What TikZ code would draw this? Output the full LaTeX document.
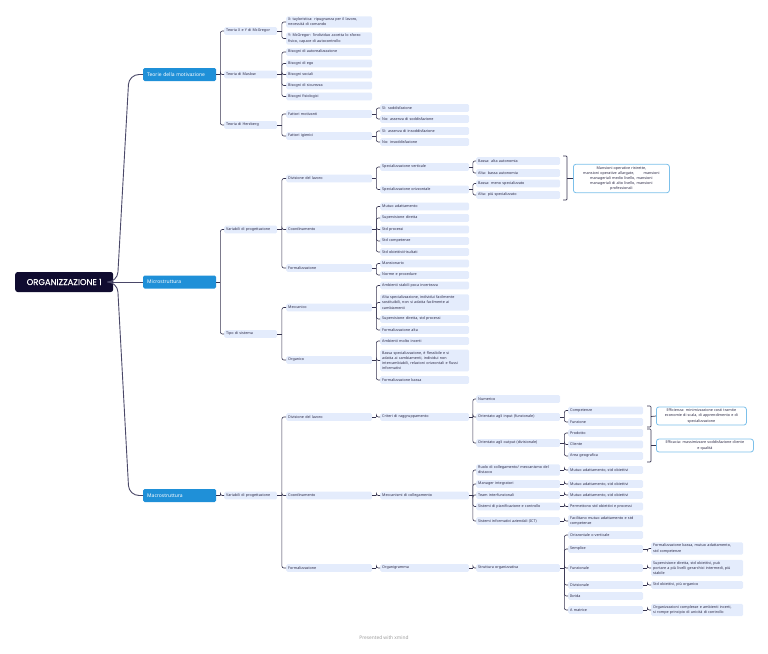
\documentclass[tikz,border=0pt]{standalone}
\usepackage{fontspec}
\setmainfont{Noto Sans}
\newfontfamily\rootfont[FakeBold=0.4]{Poppins}
\usetikzlibrary{calc}
\definecolor{nf}{HTML}{E4ECFC}
\definecolor{tc}{HTML}{2E2C48}
\definecolor{lc}{HTML}{35334F}
\definecolor{bl}{HTML}{1F90D8}
\definecolor{rt}{HTML}{100C30}
\definecolor{sb}{HTML}{7CC0EA}
\definecolor{rc}{HTML}{4A4868}
\definecolor{ft}{HTML}{9C9C9C}
\tikzset{
 box/.style={fill=nf, text=tc, rounded corners=1.5pt, anchor=west, inner xsep=2pt, inner ysep=1.6pt,
   minimum height=7.6pt, font=\fontsize{3.7}{5.2}\selectfont, align=left, text width=#1},
 c1/.style={box=49pt}, c2/.style={box=82pt}, c3/.style={box=85pt},
 c4/.style={box=80pt}, c5/.style={box=71pt}, c6/.style={box=88pt},
 conn/.style={draw=lc, line width=0.6pt},
 rootc/.style={draw=rc, line width=0.9pt},
 topbox/.style={fill=bl, text=white, rounded corners=1.5pt, font=\fontsize{5}{6}\selectfont\bfseries,
   minimum height=13pt, anchor=west, inner xsep=4pt, text width=65pt, align=left},
 sumbox/.style={draw=sb, line width=0.8pt, fill=white, text=tc, rounded corners=2.5pt, anchor=west,
   inner xsep=3pt, inner ysep=2pt, font=\fontsize{3.7}{5.2}\selectfont, align=center},
}
\newcommand\lk[3][4]{\draw[conn] (#2.east) -- ++(#1pt,0) coordinate (sp);
  \draw[conn, rounded corners=2pt] (sp) |- (#3.west);}
\newcommand\brk[3]{\draw[conn, line width=0.7pt, rounded corners=1pt] (#1,#2) -- (#1+4,#2) -- (#1+4,#3) -- (#1,#3);}
\begin{document}
\begin{tikzpicture}[x=1pt,y=-1pt]
\useasboundingbox (0,0) rectangle (768,653);
% root and level 1
\node[fill=rt, text=white, rounded corners=2.5pt, minimum width=98pt, minimum height=20pt, anchor=west,
  font=\rootfont\fontsize{8.4}{10}\selectfont] (root) at (15,282) {ORGANIZZAZIONE 1};
\node[topbox] (TM) at (143,74.5) {Teorie della motivazione};
\node[topbox] (MI) at (143,282) {Microstruttura};
\node[topbox] (MA) at (143,495.5) {Macrostruttura};
\draw[rootc, rounded corners=10pt] (root.east) -- ++(4,0) -- ($(TM.west)+(-14,0)$) -- (TM.west);
\draw[rootc] (root.east) -- (MI.west);
\draw[rootc, rounded corners=10pt] (root.east) -- ++(4,0) -- ($(MA.west)+(-14,0)$) -- (MA.west);

% ---- Teorie della motivazione
\node[c1] (TXY) at (224,31) {Teoria X e Y di McGregor};
\node[c1] (TMa) at (224,74.5) {Teoria di Maslow};
\node[c1] (THe) at (224,125) {Teoria di Herzberg};
\foreach \c in {TXY,TMa,THe} {\lk{TM}{\c}}
\node[c2] (X) at (286,22) {X: tayloristica: ripugnanza per il lavoro,\\ necessità di comando};
\node[c2] (Y) at (286,38.5) {Y: McGregor: l'individuo accetta lo sforzo\\ fisico, capace di autocontrollo};
\foreach \c in {X,Y} {\lk[4.5]{TXY}{\c}}
\node[c2] (B1) at (286,52) {Bisogni di autorealizzazione};
\node[c2] (B2) at (286,63.5) {Bisogni di ego};
\node[c2] (B3) at (286,74.5) {Bisogni sociali};
\node[c2] (B4) at (286,85.5) {Bisogni di sicurezza};
\node[c2] (B5) at (286,96.5) {Bisogni fisiologici};
\foreach \c in {B1,B2,B3,B4,B5} {\lk[4.5]{TMa}{\c}}
\node[c2] (FM) at (286,114) {Fattori motivanti};
\node[c2] (FI) at (286,136) {Fattori igienici};
\foreach \c in {FM,FI} {\lk[4.5]{THe}{\c}}
\node[c3] (S1) at (380,108) {Sì: soddisfazione};
\node[c3] (S2) at (380,119) {No: assenza di soddisfazione};
\node[c3] (S3) at (380,131) {Sì: assenza di insoddisfazione};
\node[c3] (S4) at (380,142) {No: insoddisfazione};
\foreach \c in {S1,S2} {\lk{FM}{\c}}
\foreach \c in {S3,S4} {\lk{FI}{\c}}

% ---- Microstruttura
\node[c1] (MiV) at (224,229.5) {Variabili di progettazione};
\node[c1] (MiT) at (224,334) {Tipo di sistema};
\foreach \c in {MiV,MiT} {\lk{MI}{\c}}
\node[c2] (MiDL) at (286,178.5) {Divisione del lavoro};
\node[c2] (MiCo) at (286,229.5) {Coordinamento};
\node[c2] (MiFo) at (286,268) {Formalizzazione};
\foreach \c in {MiDL,MiCo,MiFo} {\lk[4.5]{MiV}{\c}}
\node[c3] (SV) at (380,167) {Specializzazione verticale};
\node[c3] (SOr) at (380,189.5) {Specializzazione orizzontale};
\foreach \c in {SV,SOr} {\lk{MiDL}{\c}}
\node[c4] (V1) at (476,161) {Bassa: alta autonomia};
\node[c4] (V2) at (476,173) {Alta: bassa autonomia};
\node[c4] (O1) at (476,183.5) {Bassa: meno specializzato};
\node[c4] (O2) at (476,195) {Alta: più specializzato};
\foreach \c in {V1,V2} {\lk[3.5]{SV}{\c}}
\foreach \c in {O1,O2} {\lk[3.5]{SOr}{\c}}
\brk{563}{156}{200}
\node[sumbox, text width=90pt] (Man) at (573,178.5) {Mansioni operative ristrette,\\ mansioni operative allargate,\hspace{8pt} mansioni\\ manageriali medio livello, mansioni\\ manageriali di alto livello, mansioni\\ professionali};
\draw[conn, line width=0.7pt] (567,178.5) -- (Man.west);
\node[c3] (C1) at (380,206.5) {Mutuo adattamento};
\node[c3] (C2) at (380,218) {Supervisione diretta};
\node[c3] (C3) at (380,229.5) {Std processi};
\node[c3] (C4) at (380,241) {Std competenze};
\node[c3] (C5) at (380,252) {Std obiettivi/risultati};
\foreach \c in {C1,C2,C3,C4,C5} {\lk{MiCo}{\c}}
\node[c3] (F1) at (380,263.5) {Mansionario};
\node[c3] (F2) at (380,275) {Norme e procedure};
\foreach \c in {F1,F2} {\lk{MiFo}{\c}}
\node[c2] (Mec) at (286,307.5) {Meccanico};
\node[c2] (Org) at (286,360) {Organico};
\foreach \c in {Mec,Org} {\lk[4.5]{MiT}{\c}}
\node[c3] (Me1) at (380,285.5) {Ambienti stabili poca incertezza};
\node[c3] (Me2) at (380,302.5) {Alta specializzazione, individui facilmente\\ sostituibili, non si adatta facilmente ai\\ cambiamenti};
\node[c3] (Me3) at (380,319) {Supervisione diretta, std processi};
\node[c3] (Me4) at (380,330) {Formalizzazione alta};
\foreach \c in {Me1,Me2,Me3,Me4} {\lk{Mec}{\c}}
\node[c3] (Or1) at (380,341) {Ambienti molto incerti};
\node[c3] (Or2) at (380,360.5) {Bassa specializzazione, è flessibile e si\\ adatta ai cambiamenti, individui non\\ intercambiabili, relazioni orizzontali e flussi\\ informativi};
\node[c3] (Or3) at (380,380) {Formalizzazione bassa};
\foreach \c in {Or1,Or2,Or3} {\lk{Org}{\c}}

% ---- Macrostruttura
\node[c1] (MaV) at (224,495.5) {Variabili di progettazione};
\lk{MA}{MaV}
\node[c2] (MaDL) at (286,417) {Divisione del lavoro};
\node[c2] (MaCo) at (286,495.5) {Coordinamento};
\node[c2] (MaFo) at (286,568) {Formalizzazione};
\foreach \c in {MaDL,MaCo,MaFo} {\lk[4.5]{MaV}{\c}}
\node[c3] (Crit) at (380,417) {Criteri di raggruppamento};
\node[c3] (Mecc) at (380,495.5) {Meccanismi di collegamento};
\node[c3] (Orgm) at (380,568) {Organigramma};
\lk{MaDL}{Crit} \lk{MaCo}{Mecc} \lk{MaFo}{Orgm}
\node[c4] (Num) at (476,399) {Numerico};
\node[c4] (In) at (476,417) {Orientato agli input (funzionale)};
\node[c4] (Out) at (476,443) {Orientato agli output (divisionale)};
\foreach \c in {Num,In,Out} {\lk[3.5]{Crit}{\c}}
\node[c5] (Comp) at (568,410.5) {Competenze};
\node[c5] (Funz) at (568,422) {Funzione};
\foreach \c in {Comp,Funz} {\lk{In}{\c}}
\node[c5] (Prod) at (568,433) {Prodotto};
\node[c5] (Cli) at (568,444.5) {Cliente};
\node[c5] (Area) at (568,456) {Area geografica};
\foreach \c in {Prod,Cli,Area} {\lk{Out}{\c}}
\brk{647}{406}{427}
\node[sumbox, text width=84pt] (Eff) at (656,416) {Efficienza: minimizzazione costi tramite\\ economie di scala, di apprendimento e di\\ specializzazione};
\draw[conn, line width=0.7pt] (651,416.5) -- (Eff.west);
\brk{647}{429}{462}
\node[sumbox, text width=91pt] (Efc) at (656,445.5) {Efficacia: massimizzare soddisfazione cliente\\ e qualità};
\draw[conn, line width=0.7pt] (651,445.5) -- (Efc.west);
\node[c4] (R1) at (476,470) {Ruolo di collegamento/ meccanismo del\\ distacco};
\node[c4] (R2) at (476,484) {Manager integratori};
\node[c4] (R3) at (476,495) {Team interfunzionali};
\node[c4] (R4) at (476,506.5) {Sistemi di pianificazione e controllo};
\node[c4] (R5) at (476,521) {Sistemi informativi aziendali (ICT)};
\foreach \c in {R1,R2,R3,R4,R5} {\lk[3.5]{Mecc}{\c}}
\node[c5] (M1) at (568,470) {Mutuo adattamento, std obiettivi};
\node[c5] (M2) at (568,484) {Mutuo adattamento, std obiettivi};
\node[c5] (M3) at (568,495) {Mutuo adattamento, std obiettivi};
\node[c5] (M4) at (568,506.5) {Permettono std obiettivi e processi};
\node[c5] (M5) at (568,521) {Facilitano mutuo adattamento e std\\ competenze};
\lk{R1}{M1} \lk{R2}{M2} \lk{R3}{M3} \lk{R4}{M4} \lk{R5}{M5}
\node[c4] (Str) at (476,568) {Struttura organizzativa};
\lk[3.5]{Orgm}{Str}
\node[c5] (St1) at (568,535) {Orizzontale o verticale};
\node[c5] (St2) at (568,549) {Semplice};
\node[c5] (St3) at (568,568) {Funzionale};
\node[c5] (St4) at (568,585) {Divisionale};
\node[c5] (St5) at (568,596) {Ibrida};
\node[c5] (St6) at (568,610) {A matrice};
\foreach \c in {St1,St2,St3,St4,St5,St6} {\lk{Str}{\c}}
\node[c6] (Se) at (651,548.5) {Formalizzazione bassa, mutuo adattamento,\\ std competenze};
\node[c6] (Fu) at (651,568) {Supervisione diretta, std obiettivi, può\\ portare a più livelli gerarchici intermedi, più\\ stabile};
\node[c6] (Di) at (651,585) {Std obiettivi, più organico};
\node[c6] (Am) at (651,610) {Organizzazioni complesse e ambienti incerti,\\ si rompe principio di unicità di controllo};
\lk{St2}{Se} \lk{St3}{Fu} \lk{St4}{Di} \lk{St6}{Am}

% footer
\node[text=ft, font=\fontsize{4.8}{5}\selectfont] (foot) at (384,638) {Presented with \textbf{xmind}};
\end{tikzpicture}
\end{document}
